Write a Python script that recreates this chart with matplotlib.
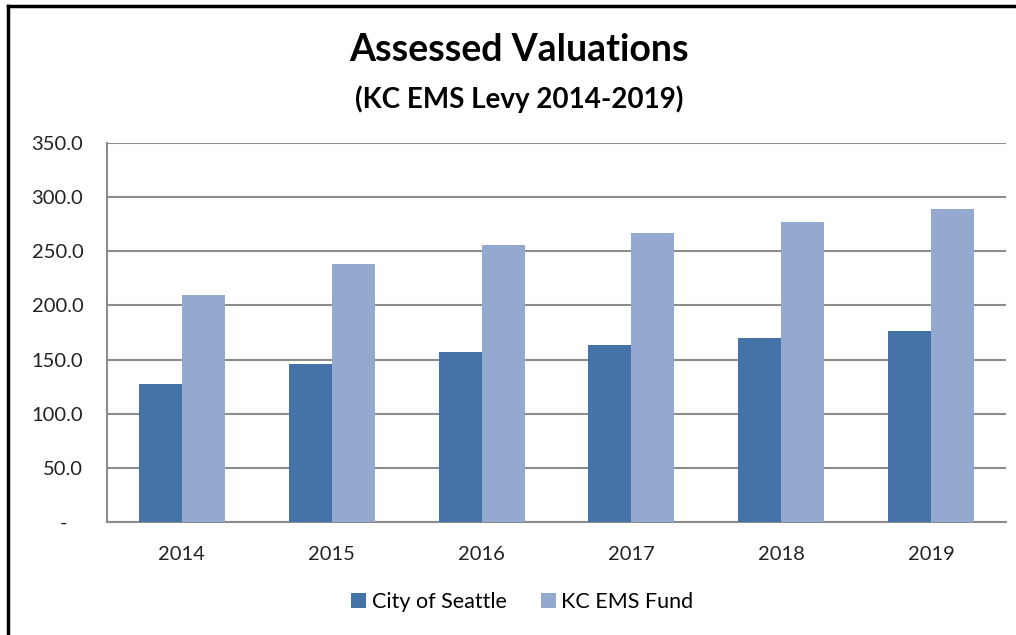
import numpy as np
import matplotlib
matplotlib.use("Agg")
import matplotlib.pyplot as plt
from matplotlib.ticker import FuncFormatter
from matplotlib.lines import Line2D

years = ["2014", "2015", "2016", "2017", "2018", "2019"]
city_of_seattle = [127.4, 146.0, 157.0, 163.4, 169.9, 176.4]
kc_ems_fund = [209.6, 238.5, 255.8, 266.9, 277.0, 289.0]

plt.rcParams["font.family"] = ["Lato", "DejaVu Sans"]

fig = plt.figure(figsize=(10.16, 6.35), dpi=100)
ax = fig.add_axes([0.1053, 0.178, 0.8847, 0.597])

x = np.arange(len(years))
w = 0.287
ax.bar(x - w / 2, city_of_seattle, w, color="#4572A7", label="City of Seattle", zorder=3)
ax.bar(x + w / 2, kc_ems_fund, w, color="#93A9CF", label="KC EMS Fund", zorder=3)

ax.set_xlim(-0.5, len(years) - 0.5)
ax.set_ylim(0, 350)
ax.set_yticks(np.arange(0, 351, 50))
ax.yaxis.set_major_formatter(FuncFormatter(lambda v, p: "-   " if v == 0 else f"{v:.1f}"))
ax.set_xticks(x)
ax.set_xticklabels(years)
ax.tick_params(axis="y", length=0, pad=17, labelsize=14.5, labelcolor="#222222")
ax.tick_params(axis="x", length=0, pad=17, labelsize=14.5, labelcolor="#222222")

ax.grid(axis="y", color="#8c8c8c", linewidth=1.5, zorder=0)
for side in ["top", "right"]:
    ax.spines[side].set_visible(False)
for side in ["left", "bottom"]:
    ax.spines[side].set_color("#8c8c8c")
    ax.spines[side].set_linewidth(1.5)

fig.text(0.511, 0.922, "Assessed Valuations", ha="center", va="center",
         fontsize=27, fontweight="bold")
fig.text(0.511, 0.843, "(KC EMS Levy 2014-2019)", ha="center", va="center",
         fontsize=20, fontweight="bold")

ax.legend(loc="center", bbox_to_anchor=(0.514, 0.052), bbox_transform=fig.transFigure,
          ncol=2, frameon=False, fontsize=15.5, handlelength=0.7, handleheight=0.7,
          handletextpad=0.25, columnspacing=1.6)

# border of the chart area (cropped on the right and bottom)
fig.add_artist(Line2D([0.0075, 0.0075], [0.0, 0.99], transform=fig.transFigure,
                      color="black", linewidth=2.5))
fig.add_artist(Line2D([0.0075, 1.0], [0.99, 0.99], transform=fig.transFigure,
                      color="black", linewidth=2.5))

fig.savefig("out.png", dpi=100)
